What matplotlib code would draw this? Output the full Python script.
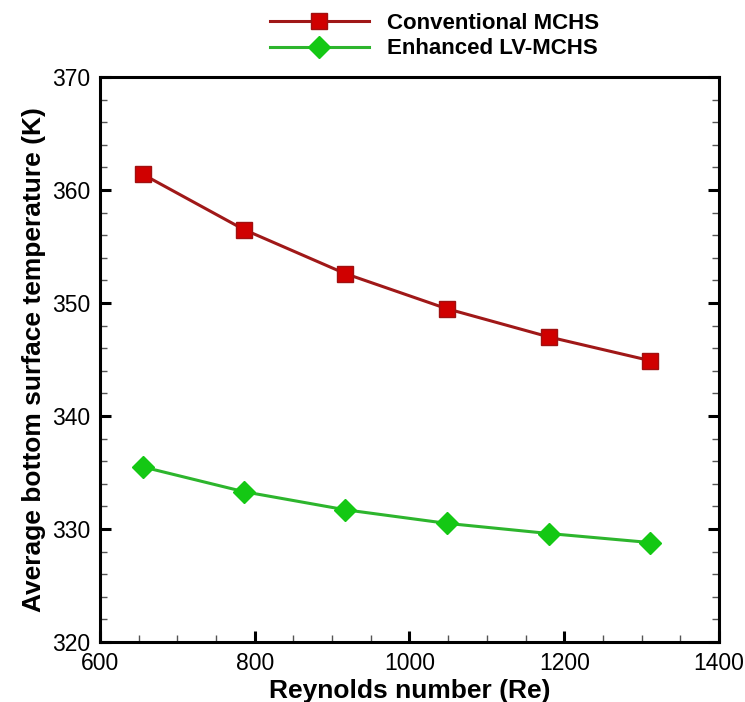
import matplotlib.pyplot as plt
from matplotlib.ticker import MultipleLocator

plt.rcParams['font.family'] = ['Liberation Sans', 'DejaVu Sans']

# values
reynolds = [655, 786, 917, 1048, 1180, 1311]
conventional = [361.4, 356.5, 352.6, 349.5, 347.0, 344.9]
enhanced = [335.5, 333.3, 331.7, 330.5, 329.6, 328.8]

fig = plt.figure(figsize=(7.45, 7.02), dpi=100)
ax = fig.add_axes([0.1342, 0.0855, 0.8309, 0.8048])

ax.plot(reynolds, conventional, color='#A01818', linewidth=2.2,
        marker='s', markersize=11, markerfacecolor='#D00000',
        markeredgecolor='#A01010', markeredgewidth=1.0,
        label='Conventional MCHS')
ax.plot(reynolds, enhanced, color='#2DB52D', linewidth=2.2,
        marker='D', markersize=11, markerfacecolor='#14C814',
        markeredgecolor='#14C814', markeredgewidth=1.0,
        label='Enhanced LV-MCHS')

ax.set_xlim(600, 1400)
ax.set_ylim(320, 370)
ax.xaxis.set_major_locator(MultipleLocator(200))
ax.xaxis.set_minor_locator(MultipleLocator(50))
ax.yaxis.set_major_locator(MultipleLocator(10))
ax.yaxis.set_minor_locator(MultipleLocator(2))

for s in ax.spines.values():
    s.set_linewidth(2.2)
ax.tick_params(which='both', direction='in', top=False, right=True)
ax.tick_params(which='major', length=8, width=2.2, labelsize=16.5, pad=7)
ax.tick_params(which='minor', length=5, width=1.0, color='#555555')

ax.set_xlabel('Reynolds number (Re)', fontsize=19, fontweight='bold', labelpad=3)
ax.set_ylabel('Average bottom surface temperature (K)', fontsize=19,
              fontweight='bold', labelpad=4)

leg = fig.legend(loc='upper left', bbox_to_anchor=(270 / 745, 1 - 13 / 702),
                 frameon=False, fontsize=16, handlelength=4.45,
                 handletextpad=0.8, labelspacing=0.2, borderpad=0,
                 borderaxespad=0)
for t in leg.get_texts():
    t.set_fontweight('bold')

fig.savefig('out.png', dpi=100)
